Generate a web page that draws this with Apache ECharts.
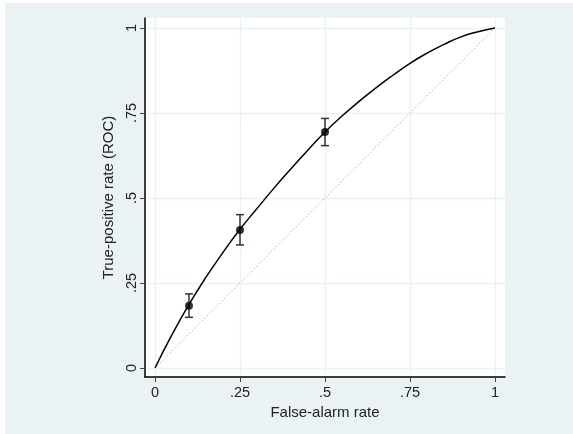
<!DOCTYPE html>
<html>
<head>
<meta charset="utf-8">
<script src="https://cdn.jsdelivr.net/npm/echarts@6/dist/echarts.min.js"></script>
<style>
  html, body { margin: 0; padding: 0; background: #ffffff; }
  #chart { width: 573px; height: 434px; }
</style>
</head>
<body>
<div id="chart"></div>
<script>
// Observed operating points with confidence limits
const fpr = [0.1, 0.25, 0.5];
const tpr = [0.183, 0.406, 0.694];
const tprLow = [0.149, 0.362, 0.654];
const tprHigh = [0.218, 0.451, 0.734];

// Fitted ROC curve
const curveX = [0, 0.05, 0.1, 0.15, 0.2, 0.25, 0.3, 0.35, 0.4, 0.45, 0.5,
                0.55, 0.6, 0.65, 0.7, 0.75, 0.8, 0.85, 0.9, 0.95, 1];
const curveY = [0, 0.098, 0.187, 0.267, 0.340, 0.408, 0.469, 0.529, 0.586, 0.641, 0.694,
                0.741, 0.784, 0.824, 0.861, 0.896, 0.926, 0.952, 0.974, 0.989, 1];

// Chance diagonal
const diagX = [0, 1];
const diagY = [0, 1];

// Axis ticks
const tickValues = [0, 0.25, 0.5, 0.75, 1];
const tickLabels = ['0', '.25', '.5', '.75', '1'];

const labelFor = v => {
  const i = tickValues.findIndex(t => Math.abs(t - v) < 1e-9);
  return i >= 0 ? tickLabels[i] : '';
};

const chart = echarts.init(document.getElementById('chart'), null, { renderer: 'canvas' });

const axisCommon = {
  type: 'value',
  axisLine: { show: true, onZero: false, lineStyle: { color: '#000', width: 1.5 } },
  axisTick: { show: true, inside: false, length: 5, customValues: tickValues,
              lineStyle: { color: '#444', width: 1 } },
  axisLabel: { customValues: tickValues, formatter: labelFor, color: '#222',
               fontFamily: 'Liberation Sans, Arial, sans-serif', fontSize: 14.5 },
  splitLine: { show: true, lineStyle: { color: '#EAF2F3', width: 1.3 } },
  nameLocation: 'middle',
  nameTextStyle: { color: '#222', fontFamily: 'Liberation Sans, Arial, sans-serif', fontSize: 15 }
};

chart.setOption({
  animation: false,
  backgroundColor: '#ffffff',
  graphic: [{
    type: 'rect', z: -10, silent: true,
    shape: { x: 5, y: 3, width: 568, height: 431 },
    style: { fill: '#EAF2F3' }
  }],
  grid: {
    left: 145, right: 68, top: 18, bottom: 57,
    show: true, backgroundColor: '#ffffff', borderWidth: 0
  },
  xAxis: Object.assign({}, axisCommon, {
    min: -0.0294, max: 1.0294,
    name: 'False-alarm rate', nameGap: 27,
    axisLabel: Object.assign({}, axisCommon.axisLabel, { margin: 8 })
  }),
  yAxis: Object.assign({}, axisCommon, {
    min: -0.0265, max: 1.0294,
    name: 'True-positive rate (ROC)', nameGap: 26,
    axisLabel: Object.assign({}, axisCommon.axisLabel, { rotate: 90, margin: 6 })
  }),
  series: [
    {
      type: 'line', name: 'chance',
      data: diagX.map((x, i) => [x, diagY[i]]),
      symbol: 'none',
      lineStyle: { color: '#999', width: 1, type: [1, 2.5] },
      z: 2
    },
    {
      type: 'line', name: 'fit',
      data: curveX.map((x, i) => [x, curveY[i]]),
      symbol: 'none', smooth: true,
      lineStyle: { color: '#000', width: 1.5 },
      z: 3
    },
    {
      type: 'custom', name: 'ci',
      data: fpr.map((x, i) => [x, tprLow[i], tprHigh[i]]),
      renderItem: (params, api) => {
        const lo = api.coord([api.value(0), api.value(1)]);
        const hi = api.coord([api.value(0), api.value(2)]);
        const w = 4;
        const style = { stroke: '#333', lineWidth: 1.5 };
        return {
          type: 'group',
          children: [
            { type: 'line', shape: { x1: lo[0], y1: lo[1], x2: hi[0], y2: hi[1] }, style },
            { type: 'line', shape: { x1: lo[0] - w, y1: lo[1], x2: lo[0] + w, y2: lo[1] }, style },
            { type: 'line', shape: { x1: hi[0] - w, y1: hi[1], x2: hi[0] + w, y2: hi[1] }, style }
          ]
        };
      },
      z: 4
    },
    {
      type: 'scatter', name: 'observed',
      data: fpr.map((x, i) => [x, tpr[i]]),
      symbol: 'circle', symbolSize: 8,
      itemStyle: { color: '#000' },
      z: 5
    }
  ]
});
</script>
</body>
</html>
